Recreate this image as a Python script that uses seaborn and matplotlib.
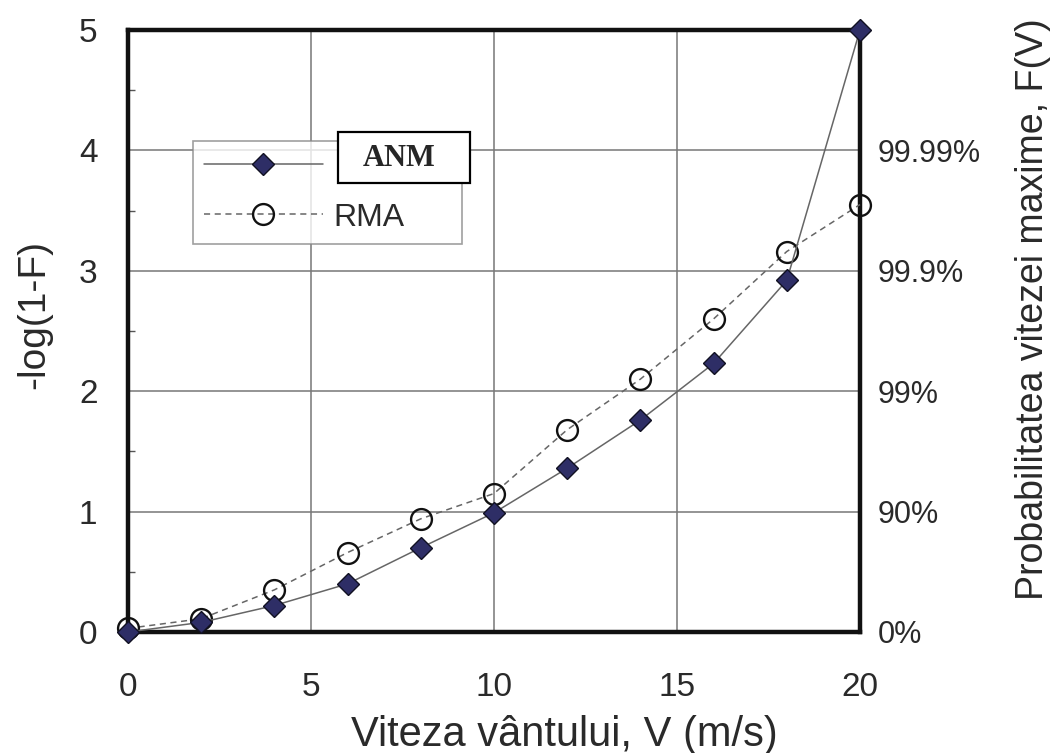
import numpy as np
import pandas as pd
import matplotlib
matplotlib.use("Agg")
import matplotlib.pyplot as plt
import seaborn as sns
from matplotlib.patches import Rectangle
from matplotlib.ticker import MultipleLocator

# ---- data ----
viteza = [0, 2, 4, 6, 8, 10, 12, 14, 16, 18, 20]
anm = [0.0, 0.08, 0.22, 0.40, 0.70, 0.99, 1.36, 1.76, 2.23, 2.92, 5.0]
rma = [0.03, 0.11, 0.35, 0.66, 0.94, 1.15, 1.68, 2.10, 2.60, 3.16, 3.55]
series_names = ["ANM", "RMA"]
right_ticks = [0, 1, 2, 3, 4]
right_labels = ["0%", "90%", "99%", "99.9%", "99.99%"]

df = pd.DataFrame({"V": viteza * 2, "y": anm + rma,
                   "serie": [series_names[0]] * len(viteza) + [series_names[1]] * len(viteza)})

sns.set_style("white")
plt.rcParams["font.family"] = ["Liberation Sans", "DejaVu Sans"]
txt = "#2a2a2a"

fig = plt.figure(figsize=(10.57, 7.53), dpi=100)
ax = fig.add_axes([0.1211, 0.1607, 0.6925, 0.7995])

d1 = df[df["serie"] == series_names[0]]
d2 = df[df["serie"] == series_names[1]]
sns.lineplot(data=d1, x="V", y="y", ax=ax, color="#666666", lw=1.1, marker="D",
             markersize=11, markerfacecolor="#2e2e66", markeredgecolor="#111122",
             markeredgewidth=1.0, zorder=4, clip_on=False)
sns.lineplot(data=d2, x="V", y="y", ax=ax, color="#666666", lw=1.1, linestyle=(0, (4, 3)),
             marker="o", markersize=15, markerfacecolor="none", markeredgecolor="#111111",
             markeredgewidth=1.7, zorder=3, clip_on=False)

ax.set_xlim(0, 20)
ax.set_ylim(0, 5)
ax.set_xticks([0, 5, 10, 15, 20])
ax.set_yticks([0, 1, 2, 3, 4, 5])
ax.xaxis.set_minor_locator(MultipleLocator(1))
ax.yaxis.set_minor_locator(MultipleLocator(0.5))
ax.grid(True, which="major", color="#777777", lw=1.1)
ax.tick_params(axis="x", which="major", length=0, labelsize=24, labelcolor=txt, pad=29)
ax.tick_params(axis="y", which="major", length=0, labelsize=24, labelcolor=txt, pad=22)
ax.tick_params(which="minor", direction="in", length=5, width=1, color="#555555")
for s in ax.spines.values():
    s.set_color("#111111")
    s.set_linewidth(3.2)

ax.set_xlabel("Viteza vântului, V (m/s)", fontsize=30, color=txt)
ax.xaxis.set_label_coords(0.596, -0.138)
ax.set_ylabel("-log(1-F)", fontsize=28, color=txt)
ax.yaxis.set_label_coords(-0.104, 0.527)

ax2 = ax.twinx()
ax2.set_ylim(0, 5)
ax2.set_yticks(right_ticks)
ax2.set_yticklabels(right_labels)
ax2.tick_params(length=0, labelsize=22, labelcolor=txt, pad=13)
for s in ax2.spines.values():
    s.set_visible(False)
ax2.set_ylabel("Probabilitatea vitezei maxime, F(V)", fontsize=27, color=txt)
ax2.yaxis.set_label_coords(1.212, 0.536)

# first legend label is hidden under the "ANM" box, as in the reference
leg = ax.legend(ax.lines[:2], ["", series_names[1]], loc="upper left",
                bbox_to_anchor=(0.089, 0.643, 0.367, 0.172),
                mode="expand", fontsize=23, frameon=True, fancybox=False,
                edgecolor="#888888", handlelength=3.7, handletextpad=0.35,
                borderpad=0.35, labelspacing=0.63, borderaxespad=0)
leg.get_frame().set_linewidth(1.2)
for t in leg.get_texts():
    t.set_color(txt)

fig.patches.append(Rectangle((338 / 1057, 1 - 183 / 753), 132 / 1057, 51 / 753,
                             transform=fig.transFigure, facecolor="white",
                             edgecolor="black", lw=1.6, zorder=10))
fig.text(399 / 1057, 1 - 158 / 753, series_names[0], ha="center", va="center", fontsize=22,
         fontweight="bold", family=["Liberation Serif", "DejaVu Serif"], zorder=11)

fig.savefig("out.png", dpi=100)
